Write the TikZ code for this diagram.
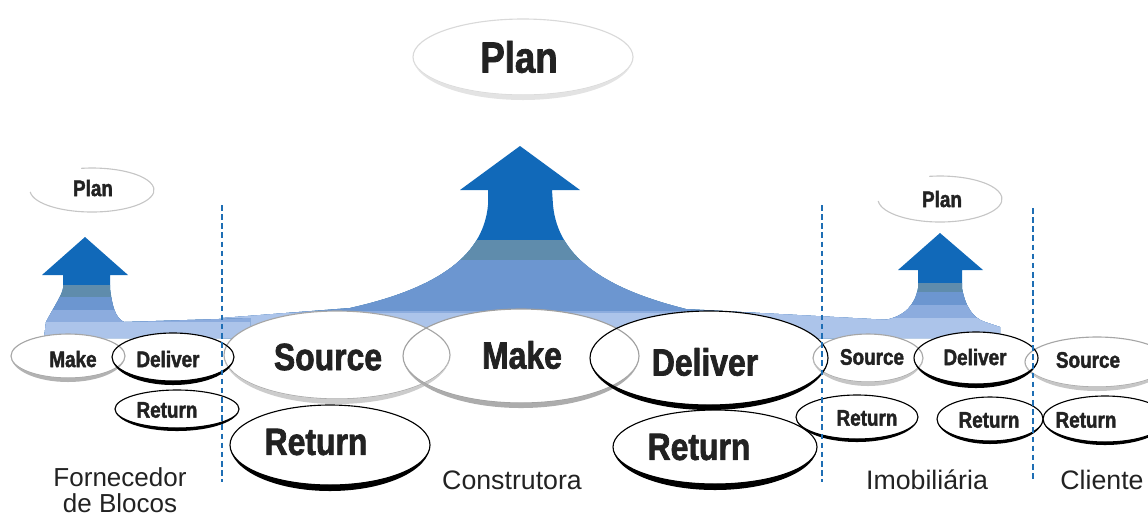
\documentclass[tikz,border=0pt]{standalone}
\usepackage{fontspec}
\setmainfont{Liberation Sans}
\newfontfamily\procfont[FakeStretch=0.84,FakeBold=1.8]{Liberation Sans Bold}
\usepackage{tikz}
\usetikzlibrary{calc}
\usepackage{xcolor}

\definecolor{bluedark}{RGB}{17,105,185}
\definecolor{bluegray}{RGB}{95,140,172}
\definecolor{bluemid}{RGB}{108,150,208}
\definecolor{bluelite}{RGB}{140,172,222}
\definecolor{bluepale}{RGB}{172,196,234}
\definecolor{cutblue}{RGB}{30,110,180}
\definecolor{inkgray}{RGB}{34,34,34}

% colour bands of an arrow, from the top down (call inside a clipped scope)
\newcommand{\bands}[4]{%
  \fill[bluedark] (0,100) rectangle (1148,345);
  \fill[bluegray] (0,#1) rectangle (1148,345);
  \fill[bluemid]  (0,#2) rectangle (1148,345);
  \fill[bluelite] (0,#3) rectangle (1148,345);
  \fill[bluepale] (0,#4) rectangle (1148,345);
}
% process ring: centre, x radius, y radius, line colour, rim colour, rim depth
\newcommand{\procring}[6]{%
  \draw[#4, line width=0.8pt] (#1) ellipse [x radius=#2, y radius=#3];
  \fill[#5] ($(#1)+(-#2,0)$) arc [start angle=180, end angle=0, x radius=#2, y radius=#3+#6]
    arc [start angle=0, end angle=180, x radius=#2, y radius=#3] -- cycle;
}

\begin{document}
\begin{tikzpicture}[x=0.025cm, y=-0.025cm, line join=round,
  proc big/.style={font=\procfont\fontsize{27}{30}\selectfont, text=inkgray, inner sep=0pt},
  proc small/.style={font=\procfont\fontsize{16}{18}\selectfont, text=inkgray, inner sep=0pt},
  plan big/.style={font=\procfont\fontsize{31}{34}\selectfont, text=inkgray, inner sep=0pt},
  firm/.style={font=\fontsize{19}{17}\selectfont, text=inkgray, align=center, inner sep=0pt},
  cut/.style={cutblue, line width=1.3pt, dash pattern=on 4pt off 2.5pt}]
  \useasboundingbox (0,0) rectangle (1148,516);
  \clip (0,0) rectangle (1148,516);

  % Arrows up to Plan (drawn first, the rings sit on top)
  \begin{scope}
    \clip (520,146) -- (580,190) -- (552,190) -- (553,205)
      .. controls (558,260) and (610,290) .. (686,309) -- (890,320) -- (890,338)
      -- (222,338) -- (222,318) -- (350,308)
      .. controls (430,290) and (483,260) .. (488,205) -- (488,190) -- (460,190) -- cycle;
    \bands{240}{260}{311}{313}
  \end{scope}
  \begin{scope}
    \clip (85,237) -- (128,275) -- (110,275) -- (110,288)
      .. controls (112,305) and (115,318) .. (124,322) -- (250,318) -- (250,338)
      -- (44,338) -- (46,322) .. controls (55,305) and (62,295) .. (63,288)
      -- (63,275) -- (42,275) -- cycle;
    \bands{285}{297}{310}{322}
  \end{scope}
  \begin{scope}
    \clip (940,233) -- (983,270) -- (962,270) -- (962,288)
      .. controls (965,305) and (972,318) .. (985,322) -- (1000,327) -- (1000,338)
      -- (800,338) -- (800,320) -- (885,320)
      .. controls (905,316) and (915,305) .. (918,288) -- (918,270) -- (898,270) -- cycle;
    \bands{283}{292}{305}{318}
  \end{scope}

  % Ring centres
  \coordinate (M1) at (68,356);    % Fornecedor
  \coordinate (D1) at (173,357);
  \coordinate (R1) at (177,409);
  \coordinate (S2) at (337,355);   % Construtora
  \coordinate (M2) at (521,356);
  \coordinate (D2) at (709,358);
  \coordinate (R2) at (330,445);
  \coordinate (R3) at (715,447);
  \coordinate (S4) at (868,358);   % Imobiliaria
  \coordinate (D4) at (976,358);
  \coordinate (R4) at (857,417);
  \coordinate (R5) at (990,419);
  \coordinate (S6) at (1097,362);  % Cliente
  \coordinate (R6) at (1105,419);

  % White faces first, so overlapping outlines stay visible
  \foreach \c/\rx/\ry in {M1/57/22, D1/61/24, R1/62/19, S2/113/44, M2/118/47,
      D2/119/47, R2/100/40, R3/102/37, S4/55/24, D4/62/26, R4/61/22,
      R5/53/22, S6/72/25, R6/62/23}
    \fill[white] (\c) ellipse [x radius=\rx, y radius=\ry];

  % Source and Make: grey rings
  \procring{M1}{57}{22}{gray!70}{gray!60}{4}
  \procring{S2}{113}{44}{gray!70}{gray!40}{5}
  \procring{M2}{118}{47}{gray!75}{gray!65}{5}
  \procring{S4}{55}{24}{gray!70}{gray!45}{4}
  \procring{S6}{72}{25}{gray!70}{gray!45}{4}
  % Deliver and Return: black rings
  \procring{D1}{61}{24}{black}{black}{4}
  \procring{R1}{62}{19}{black}{black}{3}
  \procring{D2}{119}{47}{black}{black}{5}
  \procring{R2}{100}{40}{black}{black}{6}
  \procring{R3}{102}{37}{black}{black}{6}
  \procring{D4}{62}{26}{black}{black}{4}
  \procring{R4}{61}{22}{black}{black}{3}
  \procring{R5}{53}{22}{black}{black}{3}
  \procring{R6}{62}{23}{black}{black}{3}

  % Plan rings
  \coordinate (P0) at (523,57);
  \coordinate (P1) at (92,190);
  \coordinate (P2) at (940,199);
  \procring{P0}{110}{38}{gray!30}{gray!22}{5}
  \begin{scope}[shift={(P1)}]
    \draw[gray!45, line width=0.8pt] (175:62 and 22)
      arc [start angle=175, end angle=-100, x radius=62, y radius=22];
  \end{scope}
  \begin{scope}[shift={(P2)}]
    \draw[gray!45, line width=0.8pt] (175:62 and 23)
      arc [start angle=175, end angle=-100, x radius=62, y radius=23];
  \end{scope}

  % Labels
  \node[plan big]   (plan c)  at (519,57)  {Plan};
  \node[proc small] (plan f)  at (93,188)  {Plan};
  \node[proc small] (plan i)  at (942,199) {Plan};

  \node[proc small] (make f)  at (73,359)  {Make};
  \node[proc small] (dlv f)   at (168,359) {Deliver};
  \node[proc small] (ret f)   at (167,410) {Return};

  \node[proc big]   (src c)   at (328,357) {Source};
  \node[proc big]   (make c)  at (522,355) {Make};
  \node[proc big]   (dlv c)   at (705,362) {Deliver};
  \node[proc big]   (ret c1)  at (316,442) {Return};
  \node[proc big]   (ret c2)  at (699,447) {Return};

  \node[proc small] (src i)   at (872,357) {Source};
  \node[proc small] (dlv i)   at (975,357) {Deliver};
  \node[proc small] (ret i1)  at (867,418) {Return};
  \node[proc small] (ret i2)  at (989,420) {Return};

  \node[proc small] (src k)   at (1088,360) {Source};
  \node[proc small] (ret k)   at (1086,420) {Return};

  \node[firm, anchor=north, font=\fontsize{18.5}{19}\selectfont]
    (forn) at (120,467) {Fornecedor\\de Blocos};
  \node[firm, anchor=base]  (constr) at (512,489) {Construtora};
  \node[firm, anchor=base]  (imob)   at (927,489) {Imobiliária};
  \node[firm, anchor=base]  (cli)    at (1102,489) {Cliente};

  % Dashed borders between the companies
  \coordinate (cut1 top) at (222,205);  \coordinate (cut1 bot) at (222,482);
  \coordinate (cut2 top) at (822,205);  \coordinate (cut2 bot) at (822,482);
  \coordinate (cut3 top) at (1033,208); \coordinate (cut3 bot) at (1033,482);
  \draw[cut] (cut1 top) -- (cut1 bot);
  \draw[cut] (cut2 top) -- (cut2 bot);
  \draw[cut] (cut3 top) -- (cut3 bot);
\end{tikzpicture}
\end{document}
